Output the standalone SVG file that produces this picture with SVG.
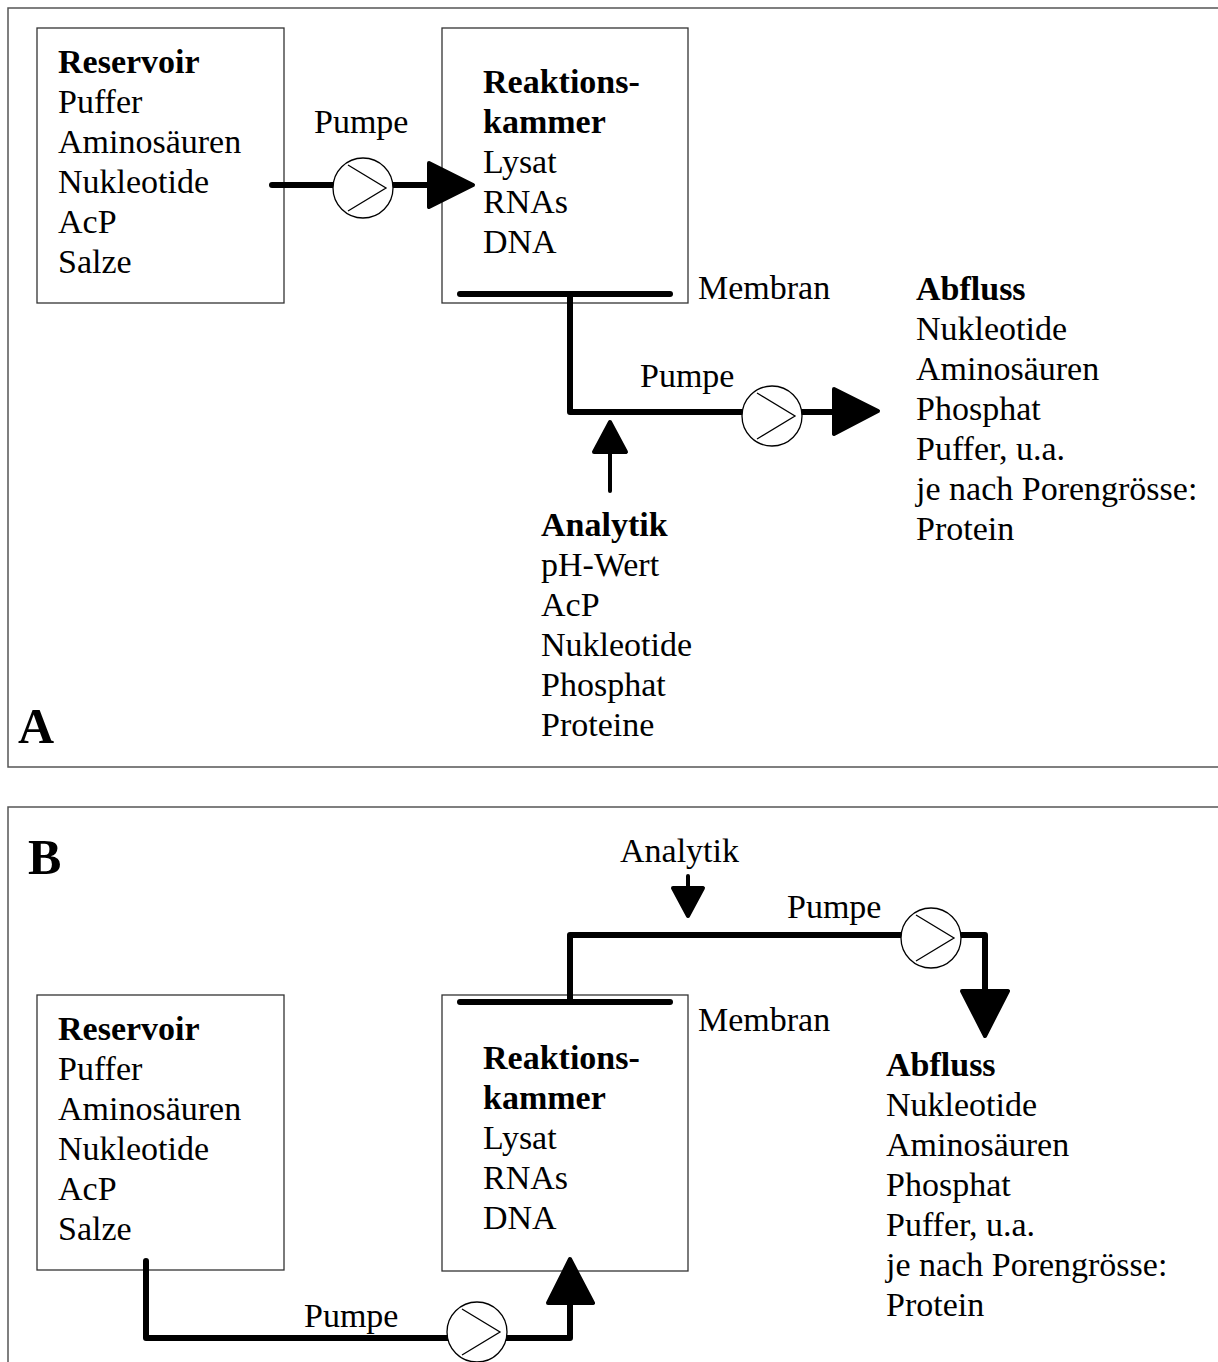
<svg xmlns="http://www.w3.org/2000/svg" width="1218" height="1362" viewBox="0 0 1218 1362">
  <style>
    .frame { fill: none; stroke: #555; stroke-width: 1.5; }
    .box { fill: none; stroke: #333; stroke-width: 1.3; }
    text { font-family: "Liberation Serif", "Times New Roman", serif; font-size: 34px; fill: #000; }
    .b { font-weight: bold; }
    .panel { font-size: 50px; font-weight: bold; }
    .pipe { fill: none; stroke: #000; stroke-width: 6; stroke-linecap: round; stroke-linejoin: round; }
    .thin { fill: none; stroke: #000; stroke-width: 4; stroke-linecap: round; }
    .head { fill: #000; stroke: #000; stroke-width: 4; stroke-linejoin: round; }
    .pump { fill: #fff; stroke: #000; stroke-width: 1.3; }
    .chev { fill: none; stroke: #000; stroke-width: 1.3; }
  </style>
  <defs>
    <g id="pumpSym">
      <circle class="pump" cx="0" cy="0" r="30"/>
      <polyline class="chev" points="-15,-23 23,0 -15,23"/>
    </g>
  </defs>

  <!-- Panel frames -->
  <rect class="frame" x="8" y="8" width="1230" height="759"/>
  <rect class="frame" x="8" y="807" width="1230" height="580"/>

  <!-- ===== Panel A ===== -->
  <g id="reservoir-a">
    <rect class="box" x="37" y="28" width="247" height="275"/>
    <text x="58" y="73" class="b">Reservoir</text>
    <text x="58" y="113">Puffer</text>
    <text x="58" y="153">Aminosäuren</text>
    <text x="58" y="193">Nukleotide</text>
    <text x="58" y="233">AcP</text>
    <text x="58" y="273">Salze</text>
  </g>

  <g id="kammer-a">
    <rect class="box" x="442" y="28" width="246" height="275"/>
    <text x="483" y="93" class="b">Reaktions-</text>
    <text x="483" y="133" class="b">kammer</text>
    <text x="483" y="173">Lysat</text>
    <text x="483" y="213">RNAs</text>
    <text x="483" y="253">DNA</text>
  </g>

  <g id="abfluss-a">
    <text x="916" y="300" class="b">Abfluss</text>
    <text x="916" y="340">Nukleotide</text>
    <text x="916" y="380">Aminosäuren</text>
    <text x="916" y="420">Phosphat</text>
    <text x="916" y="460">Puffer, u.a.</text>
    <text x="916" y="500">je nach Porengrösse:</text>
    <text x="916" y="540">Protein</text>
  </g>

  <g id="analytik-a">
    <text x="541" y="536" class="b">Analytik</text>
    <text x="541" y="576">pH-Wert</text>
    <text x="541" y="616">AcP</text>
    <text x="541" y="656">Nukleotide</text>
    <text x="541" y="696">Phosphat</text>
    <text x="541" y="736">Proteine</text>
  </g>

  <g id="labels-a">
    <text x="314" y="133">Pumpe</text>
    <text x="698" y="299">Membran</text>
    <text x="640" y="387">Pumpe</text>
  </g>

  <text x="18" y="743" class="panel">A</text>

  <g id="connectors-a">
    <!-- reservoir to chamber -->
    <line class="pipe" x1="272" y1="185" x2="430" y2="185"/>
    <polygon class="head" points="429,163 473,185 429,207"/>
    <!-- membrane and outlet -->
    <line class="pipe" x1="460" y1="294" x2="670" y2="294"/>
    <polyline class="pipe" points="570,294 570,412 835,412"/>
    <polygon class="head" points="834,389 878,411 834,434"/>
    <!-- analytics sampling -->
    <line class="thin" x1="610" y1="491" x2="610" y2="450"/>
    <polygon class="head" points="594,452 610,422 626,452"/>
    <use href="#pumpSym" x="363" y="188"/>
    <use href="#pumpSym" x="772" y="416"/>
  </g>

  <!-- ===== Panel B ===== -->
  <text x="28" y="874" class="panel">B</text>

  <g id="reservoir-b">
    <rect class="box" x="37" y="995" width="247" height="275"/>
    <text x="58" y="1040" class="b">Reservoir</text>
    <text x="58" y="1080">Puffer</text>
    <text x="58" y="1120">Aminosäuren</text>
    <text x="58" y="1160">Nukleotide</text>
    <text x="58" y="1200">AcP</text>
    <text x="58" y="1240">Salze</text>
  </g>

  <g id="kammer-b">
    <rect class="box" x="442" y="995" width="246" height="276"/>
    <text x="483" y="1069" class="b">Reaktions-</text>
    <text x="483" y="1109" class="b">kammer</text>
    <text x="483" y="1149">Lysat</text>
    <text x="483" y="1189">RNAs</text>
    <text x="483" y="1229">DNA</text>
  </g>

  <g id="abfluss-b">
    <text x="886" y="1076" class="b">Abfluss</text>
    <text x="886" y="1116">Nukleotide</text>
    <text x="886" y="1156">Aminosäuren</text>
    <text x="886" y="1196">Phosphat</text>
    <text x="886" y="1236">Puffer, u.a.</text>
    <text x="886" y="1276">je nach Porengrösse:</text>
    <text x="886" y="1316">Protein</text>
  </g>

  <g id="labels-b">
    <text x="620" y="862">Analytik</text>
    <text x="787" y="918">Pumpe</text>
    <text x="698" y="1031">Membran</text>
    <text x="304" y="1327">Pumpe</text>
  </g>

  <g id="connectors-b">
    <!-- membrane and outlet over the top -->
    <line class="pipe" x1="460" y1="1002" x2="670" y2="1002"/>
    <polyline class="pipe" points="570,1000 570,935 985,935 985,990"/>
    <polygon class="head" points="962,991 985,1036 1008,991"/>
    <!-- analytics sampling -->
    <line class="thin" x1="688" y1="876" x2="688" y2="890"/>
    <polygon class="head" points="673,888 688,916 703,888"/>
    <!-- reservoir to chamber below -->
    <polyline class="pipe" points="146,1261 146,1338 570,1338 570,1300"/>
    <polygon class="head" points="548,1303 570,1259 593,1303"/>
    <use href="#pumpSym" x="931" y="938"/>
    <use href="#pumpSym" x="477" y="1332"/>
  </g>
</svg>
